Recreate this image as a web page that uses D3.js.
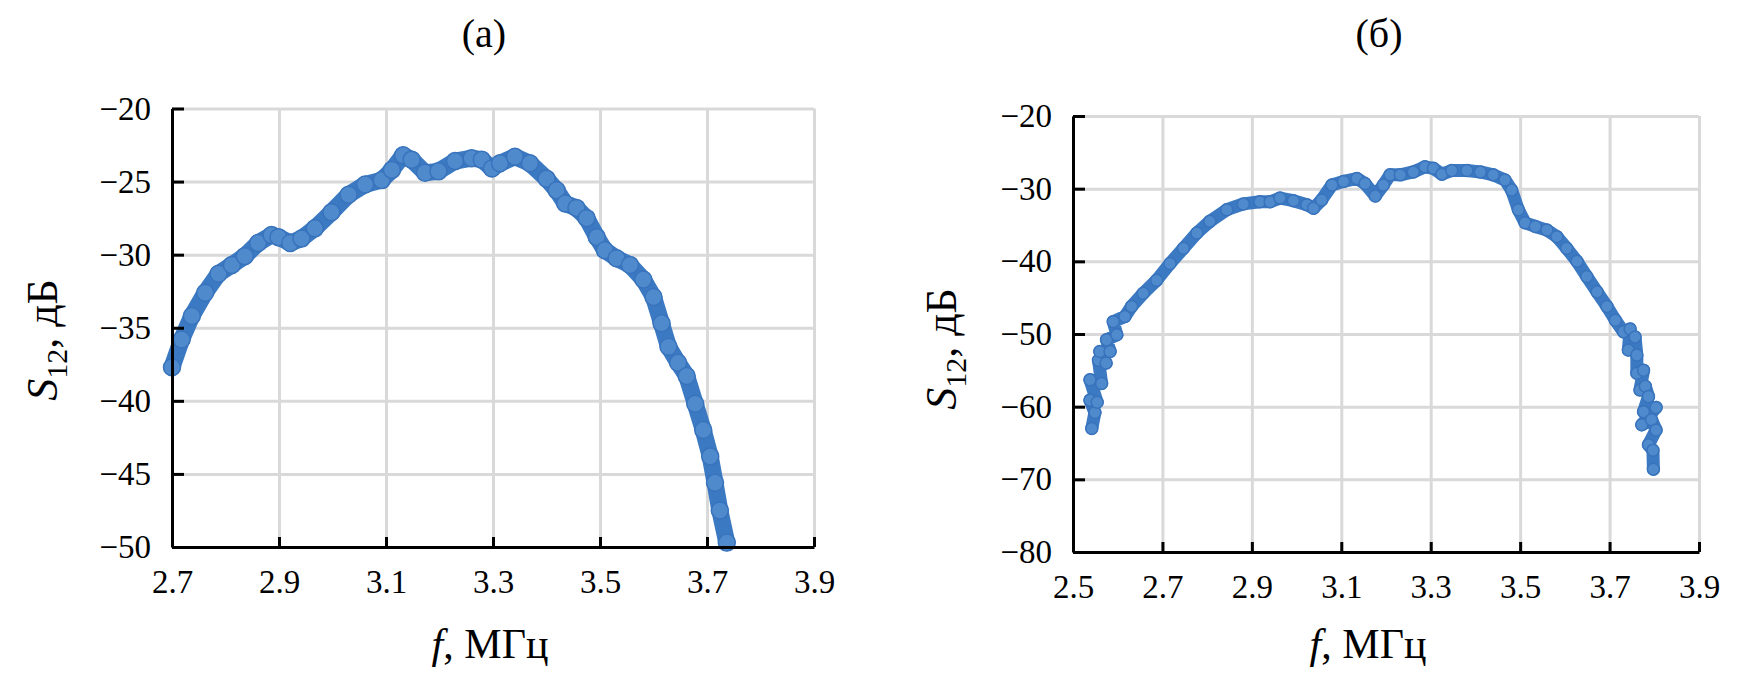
<!DOCTYPE html>
<html>
<head>
<meta charset="utf-8">
<script src="https://cdn.jsdelivr.net/npm/d3@7"></script>
<style>
  body { margin: 0; background: #fff; }
  text { font-family: "Liberation Serif", "Times New Roman", serif; fill: #000; }
</style>
</head>
<body>
<script>
// panel (a)
var freqA = [2.700, 2.718, 2.737, 2.762, 2.787, 2.812, 2.836, 2.861, 2.886, 2.899,
  2.921, 2.942, 2.967, 2.998, 3.030, 3.061, 3.092, 3.111, 3.132, 3.148,
  3.173, 3.198, 3.229, 3.260, 3.279, 3.298, 3.313, 3.341, 3.369, 3.400,
  3.419, 3.435, 3.456, 3.475, 3.494, 3.509, 3.531, 3.556, 3.581, 3.600,
  3.615, 3.628, 3.646, 3.662, 3.678, 3.693, 3.706, 3.715, 3.724, 3.737];
var s12A = [-37.7, -35.8, -34.2, -32.6, -31.3, -30.7, -30.1, -29.2, -28.65, -28.8,
  -29.2, -28.9, -28.2, -27.1, -25.9, -25.2, -24.9, -24.2, -23.2, -23.5,
  -24.4, -24.3, -23.6, -23.4, -23.5, -24.1, -23.75, -23.3, -23.75, -24.8,
  -25.6, -26.5, -26.8, -27.5, -28.8, -29.7, -30.25, -30.7, -31.7, -32.9,
  -34.7, -36.3, -37.4, -38.3, -40.2, -42.0, -43.8, -45.6, -47.5, -49.7];

// panel (б)
var freqB = [2.542, 2.549, 2.538, 2.554, 2.538, 2.564, 2.557, 2.574, 2.560, 2.583,
  2.575, 2.598, 2.590, 2.616, 2.631, 2.657, 2.687, 2.717, 2.747, 2.777,
  2.806, 2.844, 2.881, 2.918, 2.941, 2.963, 2.993, 3.023, 3.038, 3.056,
  3.079, 3.105, 3.135, 3.153, 3.176, 3.194, 3.209, 3.232, 3.261, 3.287,
  3.306, 3.325, 3.347, 3.381, 3.411, 3.440, 3.466, 3.481, 3.496, 3.511,
  3.534, 3.560, 3.582, 3.604, 3.627, 3.649, 3.672, 3.694, 3.713, 3.731,
  3.746, 3.742, 3.757, 3.761, 3.761, 3.776, 3.768, 3.780, 3.787, 3.776,
  3.804, 3.772, 3.794, 3.804, 3.787, 3.797, 3.798];
var s12B = [-63.0, -60.8, -59.1, -59.4, -56.3, -56.8, -53.6, -54.0, -52.4, -52.4,
  -50.8, -50.1, -48.3, -47.6, -46.2, -44.4, -42.6, -40.3, -38.2, -36.1,
  -34.5, -32.9, -32.1, -31.8, -31.8, -31.3, -31.65, -32.2, -32.7, -31.55,
  -29.5, -29.0, -28.6, -29.3, -31.0, -29.5, -28.1, -28.1, -27.7, -27.0,
  -27.2, -28.0, -27.5, -27.5, -27.7, -28.1, -28.8, -30.2, -32.9, -34.7,
  -35.2, -35.7, -36.6, -38.2, -40.0, -42.1, -44.2, -46.2, -48.1, -49.7,
  -49.3, -52.2, -50.4, -52.9, -55.4, -55.0, -57.7, -57.2, -58.6, -60.7,
  -60.1, -62.5, -61.8, -63.2, -65.25, -66.0, -68.6];

var xTicksA = [2.7, 2.9, 3.1, 3.3, 3.5, 3.7, 3.9];
var yTicksA = [-20, -25, -30, -35, -40, -45, -50];
var xTicksB = [2.5, 2.7, 2.9, 3.1, 3.3, 3.5, 3.7, 3.9];
var yTicksB = [-20, -30, -40, -50, -60, -70, -80];

const W = 1764, H = 680;
const svg = d3.select("body").append("svg")
  .attr("width", W)
  .attr("height", H);

function drawPanel(p) {
  var x = d3.scaleLinear().domain(p.xDomain).range([p.left, p.right]);
  var y = d3.scaleLinear().domain(p.yDomain).range([p.top, p.bottom]);
  var g = svg.append("g");

  // grid
  g.append("g")
    .attr("transform", "translate(" + p.left + ",0)")
    .call(d3.axisLeft(y).tickValues(p.yTicks).tickSize(-(p.right - p.left)).tickFormat(""))
    .call(s => s.select(".domain").remove())
    .selectAll("line").attr("stroke", "#d9d9d9").attr("stroke-width", 3);
  g.append("g")
    .attr("transform", "translate(0," + p.bottom + ")")
    .call(d3.axisBottom(x).tickValues(p.xTicks).tickSize(-(p.bottom - p.top)).tickFormat(""))
    .call(s => s.select(".domain").remove())
    .selectAll("line").attr("stroke", "#d9d9d9").attr("stroke-width", 3);

  // data
  var pts = p.xs.map(function(v, i) { return [v, p.ys[i]]; });
  var line = d3.line().x(d => x(d[0])).y(d => y(d[1]));
  g.append("path")
    .datum(pts)
    .attr("d", line)
    .attr("fill", "none")
    .attr("stroke", "#3b79c2")
    .attr("stroke-width", p.band)
    .attr("stroke-linejoin", "round")
    .attr("stroke-linecap", "round");
  g.selectAll("circle.pt")
    .data(pts)
    .enter()
    .append("circle")
    .attr("class", "pt")
    .attr("cx", d => x(d[0]))
    .attr("cy", d => y(d[1]))
    .attr("r", p.r)
    .attr("fill", "#4f8acd")
    .attr("stroke", "#3873bc")
    .attr("stroke-width", 1.5);

  // axes
  var ax = g.append("g")
    .attr("transform", "translate(" + p.left + ",0)")
    .call(d3.axisLeft(y).tickValues(p.yTicks).tickSize(-12).tickSizeOuter(0).tickPadding(21));
  var bx = g.append("g")
    .attr("transform", "translate(0," + p.bottom + ")")
    .call(d3.axisBottom(x).tickValues(p.xTicks).tickSize(-10).tickSizeOuter(0).tickPadding(23)
      .tickFormat(d3.format(".1f")));
  [ax, bx].forEach(function(a) {
    a.select(".domain").attr("stroke", "#000").attr("stroke-width", 3);
    a.selectAll(".tick line").attr("stroke", "#000").attr("stroke-width", 3);
    a.selectAll("text").style("font-size", "33px").style("font-family", "Liberation Serif");
  });

  // titles
  svg.append("text")
    .attr("x", p.titleX)
    .attr("y", 47)
    .attr("text-anchor", "middle")
    .style("font-size", "40px")
    .text(p.title);

  var xl = svg.append("text")
    .attr("x", p.xLabelX)
    .attr("y", 658)
    .attr("text-anchor", "middle")
    .style("font-size", "42px");
  xl.append("tspan").style("font-style", "italic").text("f");
  xl.append("tspan").text(", МГц");

  var yl = svg.append("text")
    .attr("transform", "translate(" + p.yLabelX + "," + p.yLabelY + ") rotate(-90)")
    .attr("text-anchor", "middle")
    .style("font-size", "44px");
  yl.append("tspan").style("font-style", "italic").text("S");
  yl.append("tspan").attr("dy", 10).style("font-size", "30px").text("12");
  yl.append("tspan").attr("dy", -10).text(", дБ");
}

drawPanel({
  xs: freqA, ys: s12A, xTicks: xTicksA, yTicks: yTicksA,
  xDomain: [2.7, 3.9], yDomain: [-20, -50],
  left: 172, right: 814, top: 108.5, bottom: 547,
  band: 17, r: 8.5,
  title: "(a)", titleX: 484, xLabelX: 490, yLabelX: 57, yLabelY: 340
});

drawPanel({
  xs: freqB, ys: s12B, xTicks: xTicksB, yTicks: yTicksB,
  xDomain: [2.5, 3.9], yDomain: [-20, -80],
  left: 1073, right: 1699, top: 116, bottom: 552,
  band: 13, r: 6,
  title: "(б)", titleX: 1379, xLabelX: 1368, yLabelX: 956, yLabelY: 349
});
</script>
</body>
</html>
